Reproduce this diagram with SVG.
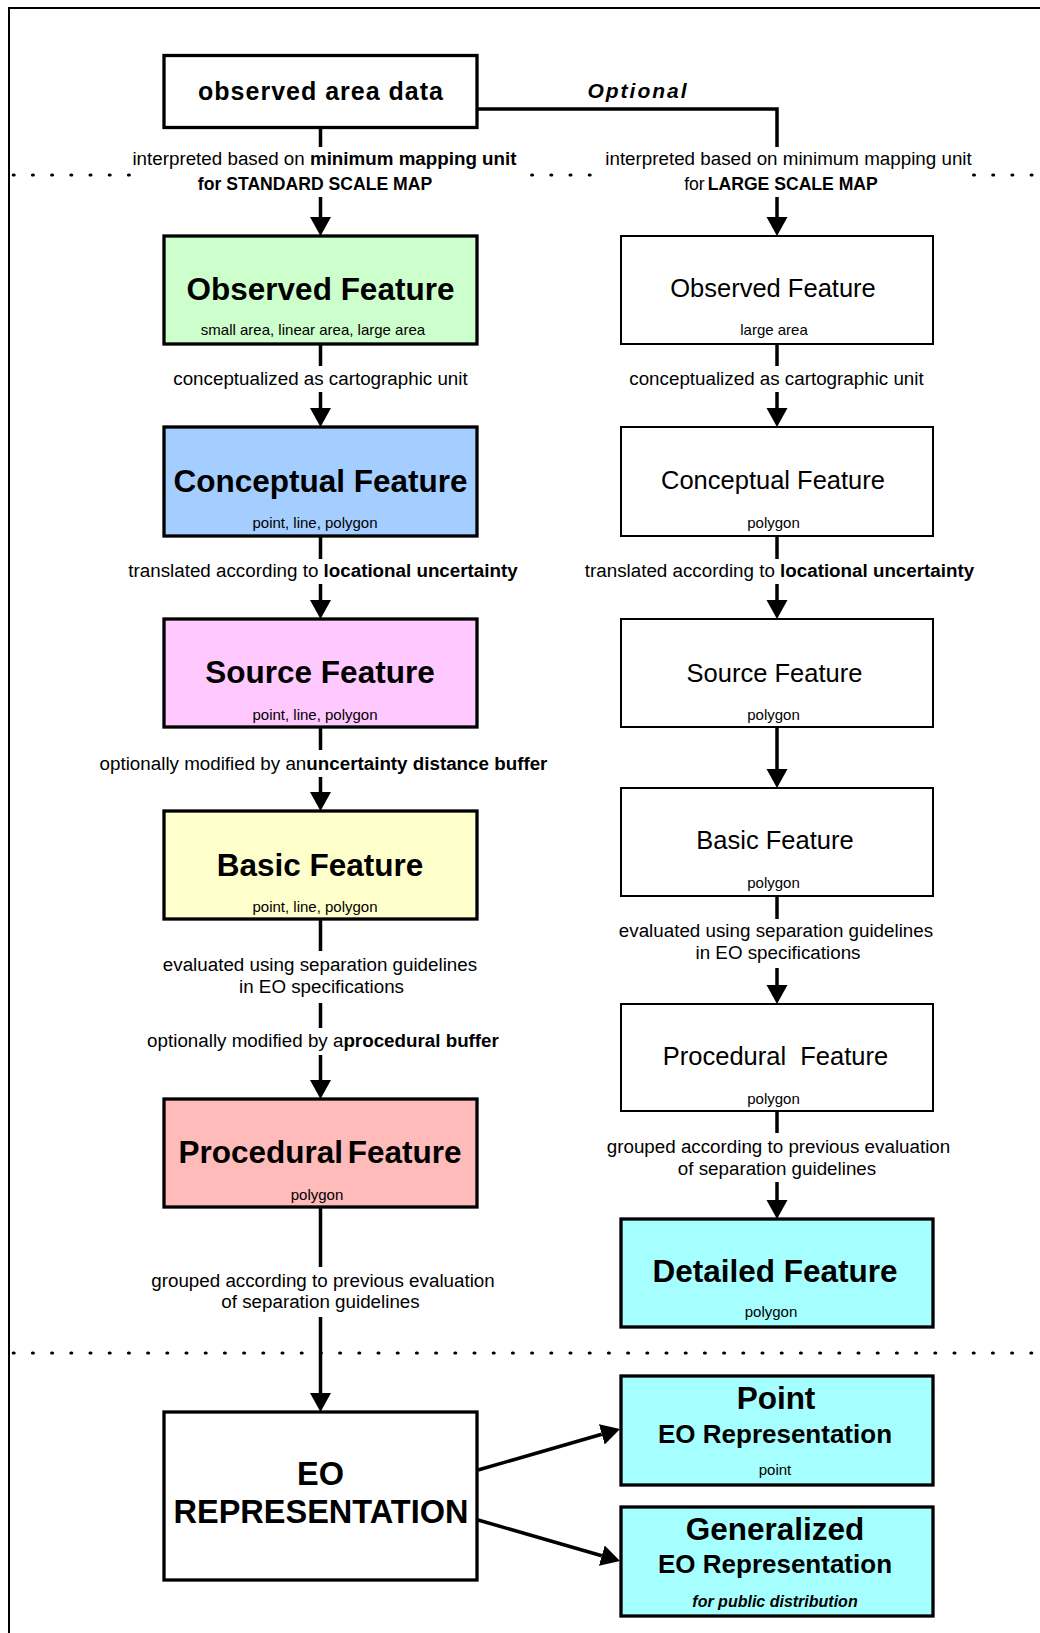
<svg xmlns="http://www.w3.org/2000/svg" width="1040" height="1633" viewBox="0 0 1040 1633">
  <defs>
    <marker id="arrow" markerUnits="userSpaceOnUse" markerWidth="20" markerHeight="22" refX="0" refY="11" orient="auto">
      <path d="M0,0.5 L19,11 L0,21.5 Z" fill="#000"/>
    </marker>
    <style>
      text { font-family: "Liberation Sans", Arial, sans-serif; fill: #000; text-anchor: middle; }
      .box { stroke: #000; stroke-width: 3.3; }
      .plain { fill: #fff; stroke: #000; stroke-width: 2; }
      .green { fill: #CCFFCC; }
      .blue { fill: #A3CEFF; }
      .pink { fill: #FFC8FF; }
      .yellow { fill: #FFFFCC; }
      .salmon { fill: #FFBABA; }
      .cyan { fill: #A6FFFF; }
      .white { fill: #fff; }
      .title { font-size: 31.5px; font-weight: bold; }
      .rtitle { font-size: 25.5px; }
      .sub { font-size: 15px; }
      .lbl { font-size: 18.8px; }
      .b { font-weight: bold; }
      .conn { fill: none; stroke: #000; stroke-width: 3.5; }
      .dots { fill: none; stroke: #000; stroke-width: 3.2; stroke-linecap: round; stroke-dasharray: 0.8 18.4; }
    </style>
  </defs>

  <!-- frame -->
  <path d="M9,1633 V8 H1040" fill="none" stroke="#000" stroke-width="2"/>

  <!-- scale separators -->
  <g id="separators">
    <line class="dots" x1="13.3" y1="175" x2="129.3" y2="175"/>
    <line class="dots" x1="531.7" y1="175" x2="590.1" y2="175"/>
    <line class="dots" x1="973.6" y1="175" x2="1032" y2="175"/>
    <line class="dots" x1="13.3" y1="1353" x2="1032" y2="1353"/>
  </g>

  <!-- connectors -->
  <g id="connectors">
    <!-- standard scale branch -->
    <path class="conn" d="M320.5,127.5 V147"/>
    <path class="conn" d="M320.5,197 V217" marker-end="url(#arrow)"/>
    <path class="conn" d="M320.5,344 V366"/>
    <path class="conn" d="M320.5,392 V408" marker-end="url(#arrow)"/>
    <path class="conn" d="M320.5,536 V559"/>
    <path class="conn" d="M320.5,584 V600" marker-end="url(#arrow)"/>
    <path class="conn" d="M320.5,727 V750"/>
    <path class="conn" d="M320.5,777 V792" marker-end="url(#arrow)"/>
    <path class="conn" d="M320.5,919 V951"/>
    <path class="conn" d="M320.5,1003 V1028"/>
    <path class="conn" d="M320.5,1055 V1080" marker-end="url(#arrow)"/>
    <path class="conn" d="M320.5,1207 V1267"/>
    <path class="conn" d="M320.5,1317 V1393" marker-end="url(#arrow)"/>
    <!-- large scale branch -->
    <path class="conn" d="M477,109 H777 V147"/>
    <path class="conn" d="M777,197 V217" marker-end="url(#arrow)"/>
    <path class="conn" d="M777,344 V366"/>
    <path class="conn" d="M777,392 V408" marker-end="url(#arrow)"/>
    <path class="conn" d="M777,536 V559"/>
    <path class="conn" d="M777,584 V600" marker-end="url(#arrow)"/>
    <path class="conn" d="M777,727 V769" marker-end="url(#arrow)"/>
    <path class="conn" d="M777,896 V919"/>
    <path class="conn" d="M777,968 V985" marker-end="url(#arrow)"/>
    <path class="conn" d="M777,1111 V1133"/>
    <path class="conn" d="M777,1182 V1200" marker-end="url(#arrow)"/>
    <!-- EO representation outputs -->
    <path class="conn" d="M478,1470 L601.8,1434.3" marker-end="url(#arrow)"/>
    <path class="conn" d="M478,1520 L601.8,1555.7" marker-end="url(#arrow)"/>

    <!-- connector labels -->
    <text class="lbl" x="324.5" y="165">interpreted based on <tspan class="b">minimum mapping unit</tspan></text>
    <text class="b" x="315" y="190" font-size="17.6">for STANDARD SCALE MAP</text>
    <text class="lbl" x="788.5" y="165">interpreted based on minimum mapping unit</text>
    <text x="781" y="190" font-size="17.6">for<tspan class="b" dx="3">LARGE SCALE MAP</tspan></text>
    <text x="638" y="98" font-size="21" font-weight="bold" font-style="italic" letter-spacing="2">Optional</text>

    <text class="lbl" x="320.5" y="385">conceptualized as cartographic unit</text>
    <text class="lbl" x="776.5" y="385">conceptualized as cartographic unit</text>

    <text class="lbl" x="323" y="577">translated according to <tspan class="b">locational uncertainty</tspan></text>
    <text class="lbl" x="779.5" y="577">translated according to <tspan class="b">locational uncertainty</tspan></text>

    <text class="lbl" x="323.5" y="770">optionally modified by an<tspan class="b">uncertainty distance buffer</tspan></text>

    <text class="lbl" x="320" y="971">evaluated using separation guidelines</text>
    <text class="lbl" x="321.5" y="993">in EO specifications</text>
    <text class="lbl" x="323" y="1047">optionally modified by a<tspan class="b">procedural buffer</tspan></text>

    <text class="lbl" x="776" y="937">evaluated using separation guidelines</text>
    <text class="lbl" x="778" y="959">in EO specifications</text>

    <text class="lbl" x="323" y="1287">grouped according to previous evaluation</text>
    <text class="lbl" x="320.5" y="1308">of separation guidelines</text>

    <text class="lbl" x="778.5" y="1153">grouped according to previous evaluation</text>
    <text class="lbl" x="777" y="1175">of separation guidelines</text>
  </g>

  <!-- source data -->
  <g id="observed-area-data">
    <rect class="box white" x="164" y="55.5" width="313" height="72"/>
    <text x="321" y="100" font-size="25" font-weight="bold" letter-spacing="1">observed area data</text>
  </g>

  <!-- standard scale column -->
  <g id="observed-feature-std">
    <rect class="box green" x="164" y="236" width="313" height="108"/>
    <text class="title" x="320.5" y="300">Observed Feature</text>
    <text class="sub" x="313" y="335">small area, linear area, large area</text>
  </g>
  <g id="conceptual-feature-std">
    <rect class="box blue" x="164" y="427" width="313" height="109"/>
    <text class="title" x="320.5" y="492">Conceptual Feature</text>
    <text class="sub" x="315" y="528">point, line, polygon</text>
  </g>
  <g id="source-feature-std">
    <rect class="box pink" x="164" y="619" width="313" height="108"/>
    <text class="title" x="320" y="683">Source Feature</text>
    <text class="sub" x="315" y="720">point, line, polygon</text>
  </g>
  <g id="basic-feature-std">
    <rect class="box yellow" x="164" y="811" width="313" height="108"/>
    <text class="title" x="320" y="876">Basic Feature</text>
    <text class="sub" x="315" y="912">point, line, polygon</text>
  </g>
  <g id="procedural-feature-std">
    <rect class="box salmon" x="164" y="1099" width="313" height="108"/>
    <text class="title" x="320" y="1163" font-size="32" word-spacing="-4">Procedural Feature</text>
    <text class="sub" x="317" y="1200">polygon</text>
  </g>
  <g id="eo-representation">
    <rect class="box white" x="164" y="1412" width="313" height="168"/>
    <text x="320.5" y="1485" font-size="32.5" font-weight="bold">EO</text>
    <text x="321" y="1523" font-size="32.5" font-weight="bold">REPRESENTATION</text>
  </g>

  <!-- large scale column -->
  <g id="observed-feature-large">
    <rect class="plain" x="621" y="236" width="312" height="108"/>
    <text class="rtitle" x="773" y="297">Observed Feature</text>
    <text class="sub" x="774" y="335">large area</text>
  </g>
  <g id="conceptual-feature-large">
    <rect class="plain" x="621" y="427" width="312" height="109"/>
    <text class="rtitle" x="773" y="489">Conceptual Feature</text>
    <text class="sub" x="773.5" y="528">polygon</text>
  </g>
  <g id="source-feature-large">
    <rect class="plain" x="621" y="619" width="312" height="108"/>
    <text class="rtitle" x="774.5" y="682">Source Feature</text>
    <text class="sub" x="773.5" y="720">polygon</text>
  </g>
  <g id="basic-feature-large">
    <rect class="plain" x="621" y="788" width="312" height="108"/>
    <text class="rtitle" x="775" y="849">Basic Feature</text>
    <text class="sub" x="773.5" y="888">polygon</text>
  </g>
  <g id="procedural-feature-large">
    <rect class="plain" x="621" y="1004" width="312" height="107"/>
    <text class="rtitle" x="775.5" y="1065">Procedural&#160; Feature</text>
    <text class="sub" x="773.5" y="1104">polygon</text>
  </g>
  <g id="detailed-feature">
    <rect class="box cyan" x="621" y="1219" width="312" height="108"/>
    <text class="title" x="775" y="1282">Detailed Feature</text>
    <text class="sub" x="771" y="1317">polygon</text>
  </g>

  <!-- representations -->
  <g id="point-eo-representation">
    <rect class="box cyan" x="621" y="1376" width="312" height="109"/>
    <text class="title" x="776" y="1409">Point</text>
    <text x="775" y="1443" font-size="26" font-weight="bold">EO Representation</text>
    <text class="sub" x="775" y="1475">point</text>
  </g>
  <g id="generalized-eo-representation">
    <rect class="box cyan" x="621" y="1507" width="312" height="109"/>
    <text class="title" x="775" y="1540">Generalized</text>
    <text x="775" y="1573" font-size="26" font-weight="bold">EO Representation</text>
    <text x="775" y="1607" font-size="16" font-weight="bold" font-style="italic">for public distribution</text>
  </g>
</svg>
